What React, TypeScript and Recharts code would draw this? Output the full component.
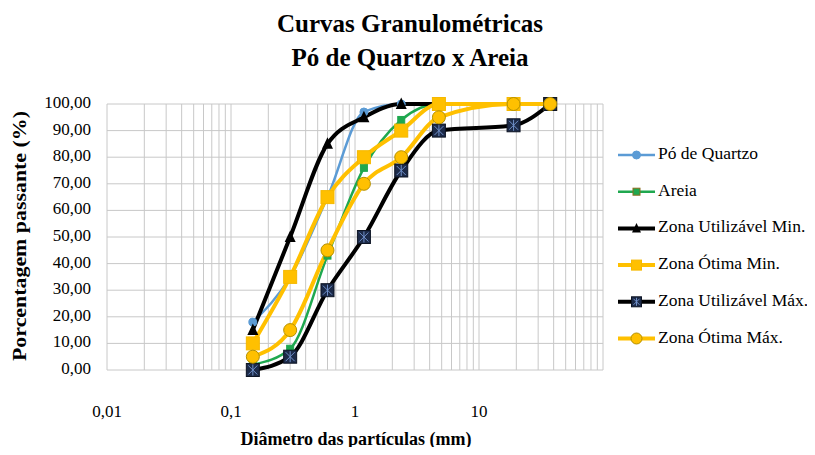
import React from "react";
import { LineChart, Line, XAxis, YAxis, CartesianGrid } from "recharts";

// abertura das peneiras (mm)
const sieves = [0.15, 0.3, 0.6, 1.18, 2.36, 4.75, 19, 37.5];

const poQuartzo = [18, 35, 65, 97, 100, 100, 100, 100];
const areia = [2, 8, 43, 76, 94, 100, 100, 100];
const utilMin = [15, 50, 85, 95, 100, 100, 100, 100];
const otimaMin = [10, 35, 65, 80, 90, 100, 100, 100];
const utilMax = [0, 5, 30, 50, 75, 90, 92, 100];
const otimaMax = [5, 15, 45, 70, 80, 95, 100, 100];

const xTicks = [
  0.01, 0.02, 0.03, 0.04, 0.05, 0.06, 0.07, 0.08, 0.09,
  0.1, 0.2, 0.3, 0.4, 0.5, 0.6, 0.7, 0.8, 0.9,
  1, 2, 3, 4, 5, 6, 7, 8, 9,
  10, 20, 30, 40, 50, 60, 70, 80, 90, 100,
];
const xLabels: Record<string, string> = { "0.01": "0,01", "0.1": "0,1", "1": "1", "10": "10" };
const yTicks = [0, 10, 20, 30, 40, 50, 60, 70, 80, 90, 100];

const toRows = (vals: number[]) => sieves.map((d, i) => ({ d, v: vals[i] }));

const FONT = "Liberation Serif, Times New Roman, serif";

const circleDot = (r: number, fill: string, stroke: string) => (p: any) => (
  <circle key={p.index} cx={p.cx} cy={p.cy} r={r} fill={fill} stroke={stroke} strokeWidth={1} />
);
const squareDot = (s: number, fill: string, stroke: string) => (p: any) => (
  <rect key={p.index} x={p.cx - s / 2} y={p.cy - s / 2} width={s} height={s} fill={fill} stroke={stroke} strokeWidth={1} />
);
const triangleDot = (s: number) => (p: any) => (
  <polygon
    key={p.index}
    points={`${p.cx},${p.cy - s * 0.6} ${p.cx - s / 2},${p.cy + s * 0.45} ${p.cx + s / 2},${p.cy + s * 0.45}`}
    fill="#000"
  />
);
const starSquareDot = (s: number) => (p: any) => (
  <g key={p.index}>
    <rect x={p.cx - s / 2} y={p.cy - s / 2} width={s} height={s} fill="#1c2a48" stroke="#0d1424" strokeWidth={1} />
    <line x1={p.cx - s / 2 + 2} y1={p.cy - s / 2 + 2} x2={p.cx + s / 2 - 2} y2={p.cy + s / 2 - 2} stroke="#6f8fc8" strokeWidth={1} />
    <line x1={p.cx + s / 2 - 2} y1={p.cy - s / 2 + 2} x2={p.cx - s / 2 + 2} y2={p.cy + s / 2 - 2} stroke="#6f8fc8" strokeWidth={1} />
    <line x1={p.cx} y1={p.cy - s / 2 + 1} x2={p.cx} y2={p.cy + s / 2 - 1} stroke="#6f8fc8" strokeWidth={1} />
  </g>
);

const series = [
  { name: "Pó de Quartzo", data: poQuartzo, color: "#5b9bd5", width: 2.5, dot: circleDot(4, "#5b9bd5", "#5b9bd5"), legendDot: circleDot(4, "#5b9bd5", "#5b9bd5") },
  { name: "Areia", data: areia, color: "#1fa84f", width: 2.5, dot: squareDot(7, "#1fa84f", "#1fa84f"), legendDot: squareDot(7, "#1fa84f", "#8a6d1f") },
  { name: "Zona Utilizável Min.", data: utilMin, color: "#000000", width: 4, dot: triangleDot(11), legendDot: triangleDot(9) },
  { name: "Zona Ótima Min.", data: otimaMin, color: "#ffc000", width: 4, dot: squareDot(13, "#ffc000", "#f5b800"), legendDot: squareDot(10, "#ffc000", "#f5b800") },
  { name: "Zona Utilizável Máx.", data: utilMax, color: "#000000", width: 4, dot: starSquareDot(13), legendDot: starSquareDot(10) },
  { name: "Zona Ótima Máx.", data: otimaMax, color: "#ffc000", width: 4, dot: circleDot(6.5, "#ffc000", "#b59100"), legendDot: circleDot(5.5, "#ffc000", "#b59100") },
];

const XTick = (props: any) => {
  const { x, y, payload } = props;
  const label = xLabels[String(payload.value)];
  if (!label) return null;
  return (
    <text x={x} y={y + 35} textAnchor="middle" dominantBaseline="middle" fontFamily={FONT} fontSize={17} fill="#000">
      {label}
    </text>
  );
};

const YTick = (props: any) => {
  const { y, payload } = props;
  return (
    <text x={91} y={y} textAnchor="end" dominantBaseline="middle" fontFamily={FONT} fontSize={17} fill="#000">
      {payload.value.toFixed(2).replace(".", ",")}
    </text>
  );
};

const LegendBox = () => (
  <svg width={200} height={240} style={{ position: "absolute", left: 615, top: 130 }}>
    {series.map((s, i) => {
      const cy = 25 + i * 36.7;
      const Dot = s.legendDot;
      return (
        <g key={s.name}>
          <line x1={3} y1={cy} x2={40} y2={cy} stroke={s.color} strokeWidth={s.width} />
          {Dot({ cx: 21.5, cy, index: i })}
          <text x={43} y={cy} dominantBaseline="middle" fontFamily={FONT} fontSize={17.5} fill="#000">
            {s.name}
          </text>
        </g>
      );
    })}
  </svg>
);

export default function App() {
  return (
    <div style={{ margin: -8, width: 815, height: 455, background: "#fff", position: "relative" }}>
      <LineChart width={815} height={455} margin={{ top: 104, right: 212, left: 0, bottom: 0 }}>
        <text x={410} y={26} textAnchor="middle" dominantBaseline="middle" fontFamily={FONT} fontWeight="bold" fontSize={25} fill="#000">
          Curvas Granulométricas
        </text>
        <text x={410} y={60} textAnchor="middle" dominantBaseline="middle" fontFamily={FONT} fontWeight="bold" fontSize={25} fill="#000">
          Pó de Quartzo x Areia
        </text>
        <text
          x={22}
          y={236}
          transform="rotate(-90 22 236)"
          textAnchor="middle"
          dominantBaseline="middle"
          fontFamily={FONT}
          fontWeight="bold"
          fontSize={19}
          textLength={250}
          lengthAdjust="spacingAndGlyphs"
          fill="#000"
        >
          Porcentagem passante (%)
        </text>
        <text x={356} y={441} textAnchor="middle" dominantBaseline="middle" fontFamily={FONT} fontWeight="bold" fontSize={18} fill="#000">
          Diâmetro das partículas (mm)
        </text>
        <CartesianGrid stroke="#c8c8c8" strokeWidth={1} />
        <XAxis
          dataKey="d"
          type="number"
          scale="log"
          domain={[0.01, 100]}
          ticks={xTicks}
          interval={0}
          allowDataOverflow
          axisLine={false}
          tickLine={false}
          tick={<XTick />}
          height={85}
        />
        <YAxis
          dataKey="v"
          type="number"
          domain={[0, 100]}
          ticks={yTicks}
          interval={0}
          axisLine={false}
          tickLine={false}
          tick={<YTick />}
          width={107}
        />
        {series.map((s) => (
          <Line
            key={s.name}
            name={s.name}
            data={toRows(s.data)}
            dataKey="v"
            type="monotone"
            stroke={s.color}
            strokeWidth={s.width}
            dot={s.dot}
            activeDot={false}
            isAnimationActive={false}
          />
        ))}
      </LineChart>
      <LegendBox />
    </div>
  );
}
